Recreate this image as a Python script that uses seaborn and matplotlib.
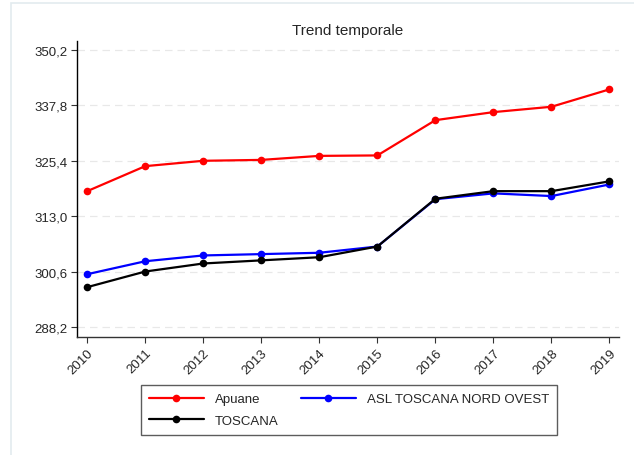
import pandas as pd
import numpy as np
import matplotlib
matplotlib.use("Agg")
import matplotlib.pyplot as plt
import seaborn as sns
from matplotlib.patches import Rectangle

# Dati
anni = [2010, 2011, 2012, 2013, 2014, 2015, 2016, 2017, 2018, 2019]
apuane = [318.6, 324.2, 325.4, 325.6, 326.5, 326.6, 334.5, 336.3, 337.5, 341.4]
asl_nord_ovest = [300.0, 302.9, 304.2, 304.5, 304.8, 306.2, 316.8, 318.1, 317.5, 320.1]
toscana = [297.1, 300.6, 302.4, 303.1, 303.8, 306.2, 316.9, 318.6, 318.6, 320.8]

serie = ["Apuane", "ASL TOSCANA NORD OVEST", "TOSCANA"]
colori = ["#ff0000", "#0000ff", "#000000"]
y_ticks = [288.2, 300.6, 313.0, 325.4, 337.8, 350.2]
y_labels = ["288,2", "300,6", "313,0", "325,4", "337,8", "350,2"]

df = pd.DataFrame({
    "anno": anni * 3,
    "valore": apuane + asl_nord_ovest + toscana,
    "serie": [serie[0]] * 10 + [serie[1]] * 10 + [serie[2]] * 10,
})

sns.set_style("white")
plt.rcParams["font.family"] = ["Liberation Sans", "DejaVu Sans"]

fig = plt.figure(figsize=(6.34, 4.56), dpi=100)
ax = fig.add_axes([0.122, 0.2594, 0.854, 0.6492])

# bordo esterno chiaro
fig.patches.append(Rectangle((11 / 634, -0.05), 1.1, 1.05 - 4 / 456, transform=fig.transFigure,
                             fill=False, edgecolor="#e3ebef", linewidth=1.2))

sns.lineplot(data=df, x="anno", y="valore", hue="serie", hue_order=serie,
             palette=colori, marker="o", markersize=5.5, markeredgewidth=0,
             linewidth=1.6, ax=ax, legend=False)

ax.set_xlim(2009.83, 2019.16)
ax.set_ylim(286.0, 352.3)
ax.set_yticks(y_ticks)
ax.set_yticklabels(y_labels, fontsize=9.5)
ax.set_xticks(anni)
ax.set_xticklabels([str(a) for a in anni], fontsize=9.5, rotation=45,
                   ha="right", rotation_mode="anchor")
ax.set_xlabel("")
ax.set_ylabel("")
ax.grid(axis="y", color="#e8e8e8", linestyle=(0, (6, 4)), linewidth=0.9)
ax.grid(axis="x", visible=False)
ax.tick_params(axis="both", direction="out", length=4, width=0.8, color="#333333",
               left=True, bottom=True, pad=3)
for lato in ["top", "right"]:
    ax.spines[lato].set_visible(False)
ax.spines["left"].set_color("#000000")
ax.spines["bottom"].set_color("#333333")
ax.spines["left"].set_linewidth(1.0)
ax.spines["bottom"].set_linewidth(1.0)
ax.set_title("Trend temporale", fontsize=11, pad=5)

# legenda: Apuane / TOSCANA nella prima colonna, ASL nella seconda
handles = [plt.Line2D([], [], color=c, marker="o", markersize=5.5, markeredgewidth=0,
                      linewidth=1.6) for c in colori]
ordine = [0, 2, 1]
leg = fig.legend([handles[i] for i in ordine], [serie[i] for i in ordine],
                 ncol=2, loc="center", bbox_to_anchor=(0.55, 0.0987),
                 fontsize=9.5, frameon=True, fancybox=False, handlelength=4.2,
                 handletextpad=0.8, columnspacing=1.7, labelspacing=0.7,
                 borderpad=0.6)
leg.get_frame().set_edgecolor("#333333")
leg.get_frame().set_linewidth(1.0)

fig.savefig("out.png", dpi=100)
